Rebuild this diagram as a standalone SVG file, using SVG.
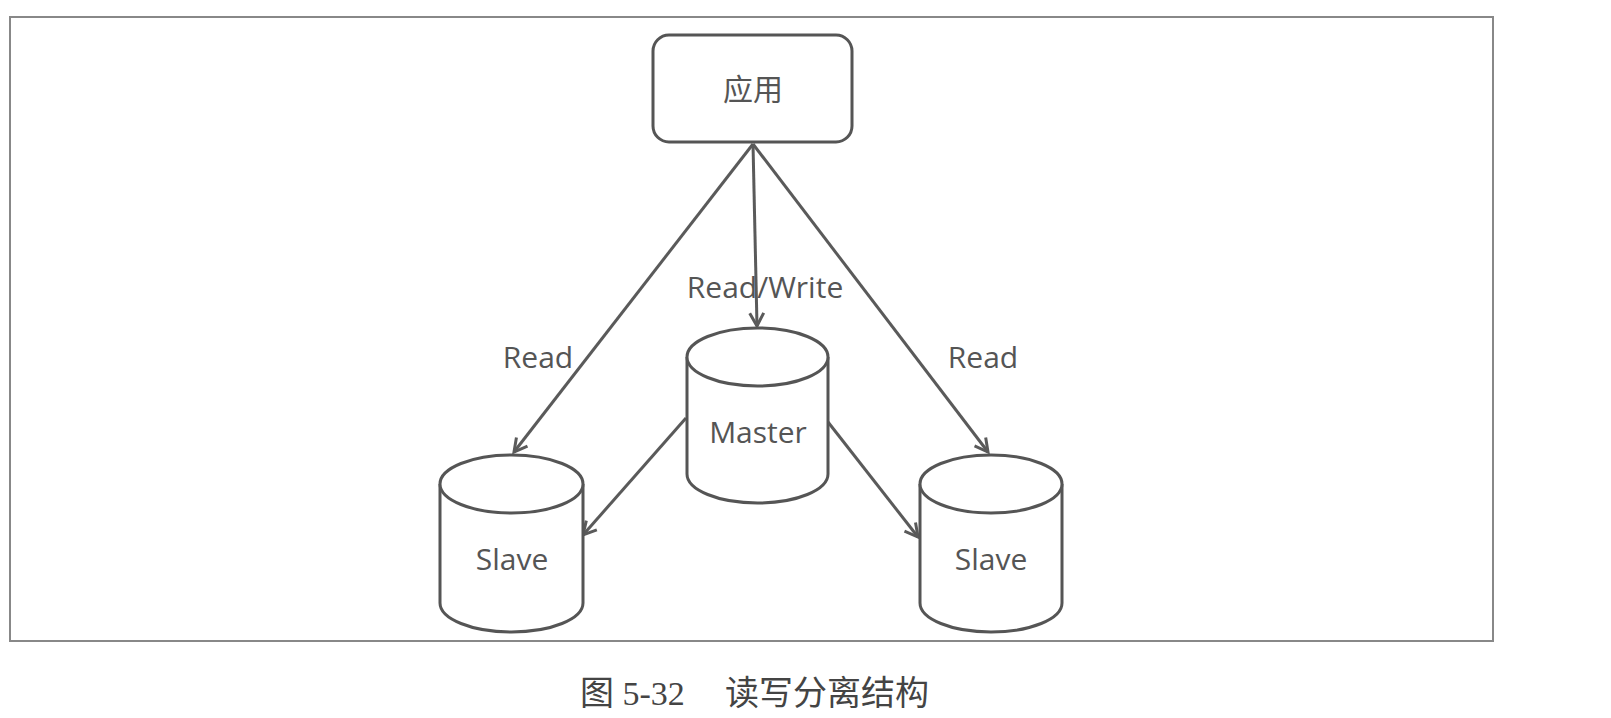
<svg xmlns="http://www.w3.org/2000/svg" width="1611" height="718" viewBox="0 0 1611 718">
<style>
.s{fill:#fff;stroke:#555;stroke-width:3}
.c{fill:none;stroke:#5a5a5a;stroke-width:3}
.t{font-family:"Open Sans","Noto Sans","Noto Sans CJK SC",sans-serif;font-size:30px;fill:#555;text-anchor:middle}
.cap{font-family:"Liberation Serif","Noto Sans CJK SC",serif;font-size:34px;fill:#444}
</style>
<defs>
<marker id="ah" markerUnits="userSpaceOnUse" markerWidth="30" markerHeight="30" viewBox="-15 -15 30 30" refX="0" refY="0" orient="auto">
<path d="M-13,-7 L0,0 L-13,7" fill="none" stroke="#5a5a5a" stroke-width="3"/>
</marker>
</defs>
<rect width="1611" height="718" fill="#fff"/>
<rect x="10" y="17" width="1483" height="624" fill="none" stroke="#888" stroke-width="2"/>
<g id="connectors">
<line class="c" x1="753" y1="144" x2="514" y2="452" marker-end="url(#ah)"/>
<line class="c" x1="753" y1="144" x2="757" y2="326" marker-end="url(#ah)"/>
<line class="c" x1="753" y1="144" x2="988" y2="452" marker-end="url(#ah)"/>
<line class="c" x1="686" y1="418" x2="583" y2="535" marker-end="url(#ah)"/>
<line class="c" x1="828" y1="422" x2="918" y2="537" marker-end="url(#ah)"/>
</g>
<g id="app">
<rect class="s" x="653" y="35" width="199" height="107" rx="16"/>
<text x="753" y="100" style="font-family:'Noto Sans CJK SC',sans-serif;font-size:30px;fill:#555" text-anchor="middle">应用</text>
</g>
<g id="master">
<path class="s" d="M687,357 V474 A70.5,29 0 0 0 828,474 V357"/>
<ellipse class="s" cx="757.5" cy="357" rx="70.5" ry="29"/>
<text class="t" x="758" y="443">Master</text>
</g>
<g id="slave-left">
<path class="s" d="M440,484 V603 A71.5,29 0 0 0 583,603 V484"/>
<ellipse class="s" cx="511.5" cy="484" rx="71.5" ry="29"/>
<text class="t" x="512" y="570">Slave</text>
</g>
<g id="slave-right">
<path class="s" d="M920,484 V603 A71,29 0 0 0 1062,603 V484"/>
<ellipse class="s" cx="991" cy="484" rx="71" ry="29"/>
<text class="t" x="991" y="570">Slave</text>
</g>
<g id="labels">
<text class="t" x="538" y="368">Read</text>
<text class="t" x="983" y="368">Read</text>
<text class="t" x="765" y="298">Read/Write</text>
</g>
<text class="cap" x="580" y="705">图 5-32<tspan x="725">读写分离结构</tspan></text>
</svg>
